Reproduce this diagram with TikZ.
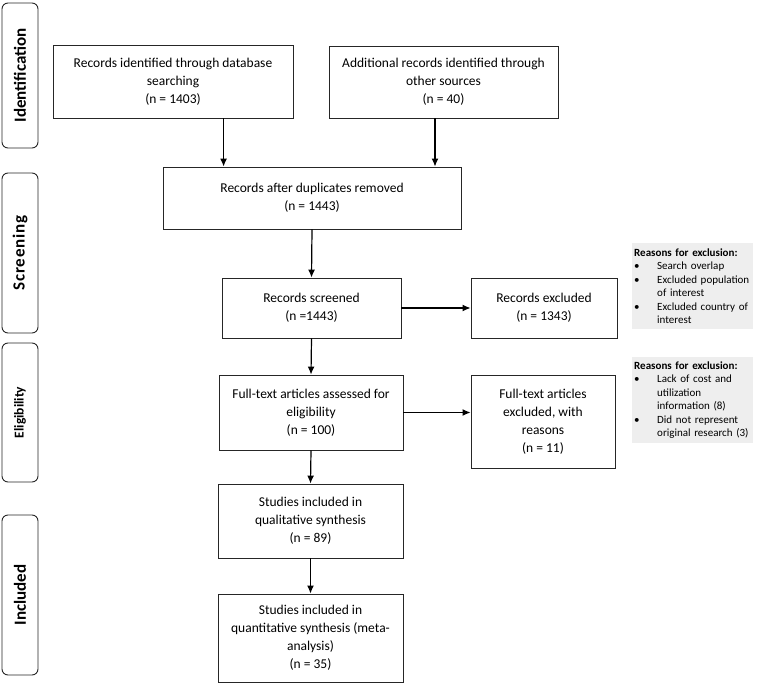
\documentclass[tikz,border=0pt]{standalone}
\usepackage{fontspec}
\setmainfont{Carlito}
\usetikzlibrary{arrows.meta,calc}

\tikzset{
  box/.style={draw=black!85, line width=.9pt, align=center, inner sep=2pt,
    font=\fontsize{13.5}{18}\selectfont},
  phase/.style={draw=black!85, line width=.9pt, rounded corners=6pt, rotate=90,
    minimum height=36pt, inner sep=0pt, font=\bfseries\fontsize{17}{20}\selectfont},
  reasons/.style={fill=gray!13, anchor=north west, align=left, inner sep=2pt,
    text width=117pt, font=\fontsize{11}{13.5}\selectfont},
  arr/.style={-{Latex[length=8pt,width=7pt]}, line width=1.2pt},
}
\newcommand{\bul}{\makebox[23pt][l]{\textbullet}}
\newcommand{\ind}{\hspace*{23pt}}

\begin{document}
\begin{tikzpicture}[x=1pt,y=-1pt]
\useasboundingbox (0,0) rectangle (757,695);

% phases
\node[phase, minimum width=145pt] (ident) at (20,75.5) {Identification};
\node[phase, minimum width=160pt] (screen) at (20,253) {\addfontfeatures{LetterSpace=5}Screening};
\node[phase, minimum width=139pt, font=\bfseries\fontsize{13.5}{16}\selectfont] (elig) at (20,412.5) {Eligibility};
\node[phase, minimum width=160pt] (incl) at (20,595) {Included};

% flow
\node[box, minimum width=240pt, minimum height=73pt] (recdb) at (173,81.5)
  {Records identified through database\\searching\\(n = 1403)};
\node[box, minimum width=229pt, minimum height=72pt] (recother) at (443.5,82)
  {Additional records identified through\\other sources\\(n = 40)};
\node[box, minimum width=298pt, minimum height=62pt] (dedup) at (312,198)
  {Records after duplicates removed\\(n = 1443)};
\node[box, minimum width=179pt, minimum height=60pt] (screened) at (311.5,308)
  {Records screened\\(n =1443)};
\node[box, minimum width=146pt, minimum height=60pt] (excl) at (544,308)
  {Records excluded\\(n = 1343)};
\node[box, minimum width=184pt, minimum height=75pt] (fulltext) at (311,412.5)
  {Full-text articles assessed for\\eligibility\\(n = 100)};
\node[box, minimum width=144pt, minimum height=93pt] (ftexcl) at (543,421.5)
  {Full-text articles\\excluded, with\\reasons\\(n = 11)};
\node[box, minimum width=185pt, minimum height=74pt] (qual) at (310.5,521)
  {Studies included in\\qualitative synthesis\\(n = 89)};
\node[box, minimum width=185pt, minimum height=88pt] (quant) at (310.5,638)
  {Studies included in\\quantitative synthesis (meta-\\analysis)\\(n = 35)};

% reasons
\node[reasons, minimum height=86pt] (why1) at (632,243)
  {\textbf{Reasons for exclusion:}\\
   \bul Search overlap\\
   \bul Excluded population\\\ind of interest\\
   \bul Excluded country of\\\ind interest};
\node[reasons, minimum height=86pt] (why2) at (632,357)
  {\textbf{Reasons for exclusion:}\\
   \bul Lack of cost and\\\ind utilization\\\ind information (8)\\
   \bul Did not represent\\\ind original research (3)};

% arrows
\coordinate (dbout) at ($(recdb.south west)!.71!(recdb.south east)$);
\coordinate (otherout) at ($(recother.south west)!.463!(recother.south east)$);
\draw[arr] (dbout) -- (dbout |- dedup.north);
\draw[arr] (otherout) -- (otherout |- dedup.north);
\draw[arr] (dedup.south) -- (screened.north);
\draw[arr] (screened.east) -- (excl.west);
\draw[arr] (screened.south) -- (fulltext.north);
\draw[arr] (fulltext.east) -- (fulltext.east -| ftexcl.west);
\draw[arr] (fulltext.south) -- (qual.north);
\draw[arr] (qual.south) -- (quant.north);

\end{tikzpicture}
\end{document}
